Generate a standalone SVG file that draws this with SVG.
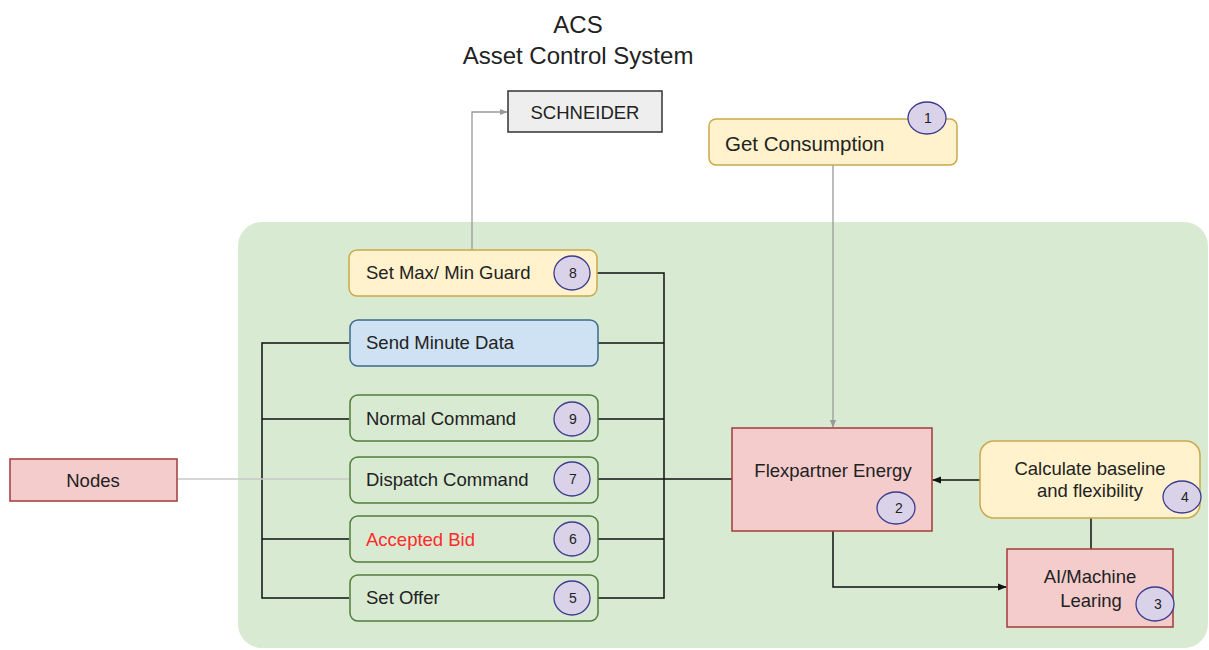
<svg xmlns="http://www.w3.org/2000/svg" width="1209" height="650" viewBox="0 0 1209 650">
  <style>
    text { font-family: "Liberation Sans", Arial, sans-serif; fill: #222; }
    .yellow { fill: #fff2cc; stroke: #c9a94a; stroke-width: 1.5; }
    .blue { fill: #cfe2f3; stroke: #3d6a8f; stroke-width: 1.5; }
    .green { fill: #d9ead3; stroke: #4f7f3a; stroke-width: 1.5; }
    .red { fill: #f4cccc; stroke: #a33a3a; stroke-width: 1.5; }
    .grey { fill: #eeeeee; stroke: #333; stroke-width: 1.5; }
    .badge { fill: #d9d2e9; stroke: #3c3c8c; stroke-width: 1.3; }
    .badge-t { font-size: 14px; text-anchor: middle; }
    .lbl { font-size: 18.5px; }
    .mid { font-size: 18.5px; text-anchor: middle; }
    .wire { fill: none; stroke: #111; stroke-width: 1.5; }
    .wire-grey { fill: none; stroke: #999; stroke-width: 1.3; }
    .wire-light { fill: none; stroke: #c8c8c8; stroke-width: 1.3; }
  </style>
  <defs>
    <marker id="arrow-dark" viewBox="0 0 10 10" refX="9" refY="5" markerWidth="6" markerHeight="6" orient="auto">
      <path d="M0,1 L10,5 L0,9 z" fill="#111"/>
    </marker>
    <marker id="arrow-grey" viewBox="0 0 10 10" refX="9" refY="5" markerWidth="6" markerHeight="6" orient="auto">
      <path d="M0,1 L10,5 L0,9 z" fill="#999"/>
    </marker>
  </defs>

  <rect width="1209" height="650" fill="#ffffff"/>

  <!-- platform area -->
  <rect id="platform" x="238" y="222" width="970" height="426" rx="24" fill="#d9ead3"/>

  <!-- title -->
  <g id="title">
    <text x="578" y="33" font-size="24" text-anchor="middle">ACS</text>
    <text x="578" y="64" font-size="24" text-anchor="middle">Asset Control System</text>
  </g>

  <!-- connectors -->
  <g id="connectors">
    <polyline class="wire-grey" points="472,250 472,112 507,112" marker-end="url(#arrow-grey)"/>
    <line class="wire-grey" x1="833" y1="165" x2="833" y2="427" marker-end="url(#arrow-grey)"/>
    <line class="wire" x1="980" y1="480" x2="933" y2="480" marker-end="url(#arrow-dark)"/>
    <line class="wire" x1="1091" y1="518" x2="1091" y2="549"/>
    <polyline class="wire" points="833,531 833,587 1006,587" marker-end="url(#arrow-dark)"/>
    <!-- left bus -->
    <polyline class="wire" points="349,343 262,343 262,598 349,598"/>
    <line class="wire" x1="262" y1="419" x2="349" y2="419"/>
    <line class="wire" x1="262" y1="539" x2="349" y2="539"/>
    <!-- right bus -->
    <polyline class="wire" points="597,273 664,273 664,598 597,598"/>
    <line class="wire" x1="597" y1="343" x2="664" y2="343"/>
    <line class="wire" x1="597" y1="419" x2="664" y2="419"/>
    <line class="wire" x1="597" y1="539" x2="664" y2="539"/>
    <line class="wire" x1="597" y1="479" x2="732" y2="479"/>
    <!-- nodes link -->
    <line class="wire-light" x1="177" y1="479" x2="349" y2="479"/>
  </g>

  <g id="schneider">
    <rect class="grey" x="508" y="91" width="154" height="41"/>
    <text x="585" y="119" font-size="18.5" text-anchor="middle">SCHNEIDER</text>
  </g>

  <g id="get-consumption">
    <rect class="yellow" x="709" y="119" width="248" height="46" rx="7"/>
    <text x="725" y="151" font-size="20.5">Get Consumption</text>
    <ellipse class="badge" cx="927" cy="118" rx="19" ry="16"/>
    <text class="badge-t" x="928" y="123">1</text>
  </g>

  <g id="flexpartner">
    <rect class="red" x="732" y="428" width="200" height="103"/>
    <text class="mid" x="833" y="477">Flexpartner Energy</text>
    <ellipse class="badge" cx="896" cy="508" rx="19" ry="16"/>
    <text class="badge-t" x="899" y="513">2</text>
  </g>

  <g id="calc-baseline">
    <rect class="yellow" x="980" y="441" width="220" height="77" rx="14"/>
    <text class="mid" x="1090" y="475">Calculate baseline</text>
    <text class="mid" x="1090" y="497">and flexibility</text>
    <ellipse class="badge" cx="1182" cy="497" rx="19" ry="16"/>
    <text class="badge-t" x="1185" y="502">4</text>
  </g>

  <g id="ai-ml">
    <rect class="red" x="1007" y="549" width="166" height="78"/>
    <text class="mid" x="1090" y="583">AI/Machine</text>
    <text class="mid" x="1091" y="607">Learing</text>
    <ellipse class="badge" cx="1155" cy="604" rx="19" ry="17"/>
    <text class="badge-t" x="1158" y="609">3</text>
  </g>

  <g id="set-guard">
    <rect class="yellow" x="349" y="250" width="248" height="46" rx="8"/>
    <text class="lbl" x="366" y="279">Set Max/ Min Guard</text>
    <ellipse class="badge" cx="572" cy="273" rx="18" ry="17"/>
    <text class="badge-t" x="573" y="278">8</text>
  </g>

  <g id="send-minute-data">
    <rect class="blue" x="350" y="320" width="248" height="46" rx="8"/>
    <text class="lbl" x="366" y="349">Send Minute Data</text>
  </g>

  <g id="normal-command">
    <rect class="green" x="350" y="395" width="248" height="46" rx="8"/>
    <text class="lbl" x="366" y="425">Normal Command</text>
    <ellipse class="badge" cx="572" cy="419" rx="18" ry="17"/>
    <text class="badge-t" x="573" y="424">9</text>
  </g>

  <g id="dispatch-command">
    <rect class="green" x="350" y="457" width="248" height="46" rx="8"/>
    <text class="lbl" x="366" y="486">Dispatch Command</text>
    <ellipse class="badge" cx="572" cy="479" rx="18" ry="17"/>
    <text class="badge-t" x="573" y="484">7</text>
  </g>

  <g id="accepted-bid">
    <rect class="green" x="350" y="516" width="248" height="46" rx="8"/>
    <text class="lbl" x="366" y="546" style="fill:#ff2a2a">Accepted Bid</text>
    <ellipse class="badge" cx="572" cy="539" rx="18" ry="17"/>
    <text class="badge-t" x="573" y="544">6</text>
  </g>

  <g id="set-offer">
    <rect class="green" x="350" y="575" width="248" height="46" rx="8"/>
    <text class="lbl" x="366" y="604">Set Offer</text>
    <ellipse class="badge" cx="572" cy="598" rx="18" ry="17"/>
    <text class="badge-t" x="573" y="603">5</text>
  </g>

  <g id="nodes">
    <rect class="red" x="10" y="459" width="167" height="42"/>
    <text x="93" y="487" font-size="18.5" text-anchor="middle">Nodes</text>
  </g>
</svg>
